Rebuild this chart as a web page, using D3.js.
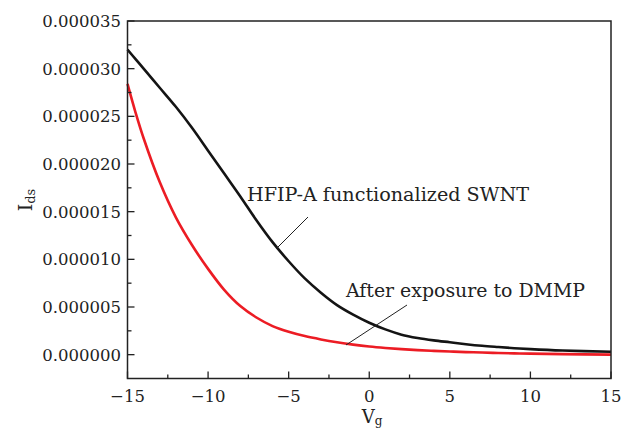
<!DOCTYPE html>
<html><head><meta charset="utf-8">
<script src="https://cdn.jsdelivr.net/npm/d3@7"></script>
<style>
body{margin:0;background:#fff;}
text{font-family:"DejaVu Serif",serif;fill:#222;}
</style></head>
<body><svg id="c" width="629" height="429"></svg>
<script>
const vg = [-15,-14.5,-14,-13,-12,-11,-10,-9,-8,-7,-6,-5,-4,-3,-2,-1,0,1,2,3,4,5,6,7,8,9,10,12,15];
const hfip = [32.0,31.0,30.0,28.0,26.0,23.8,21.4,19.0,16.6,14.1,11.8,9.8,8.0,6.5,5.2,4.2,3.35,2.65,2.1,1.75,1.5,1.3,1.1,0.93,0.8,0.68,0.58,0.43,0.3].map(v=>v*1e-6);
const dmmp = [28.4,25.4,22.7,18.1,14.4,11.5,9.0,6.8,5.1,3.9,3.0,2.4,1.95,1.6,1.3,1.05,0.85,0.7,0.58,0.48,0.4,0.33,0.27,0.22,0.18,0.14,0.11,0.06,0.0].map(v=>v*1e-6);
const xTicks = [-15,-10,-5,0,5,10,15];
const yTicks = [0,0.000005,0.00001,0.000015,0.00002,0.000025,0.00003,0.000035];
const yLabels = ["0.000000","0.000005","0.000010","0.000015","0.000020","0.000025","0.000030","0.000035"];

const svg = d3.select("#c");
const L=127.5, R=611, T=21, B=378.5;
const x = d3.scaleLinear().domain([-15,15]).range([L,R]);
const y = d3.scaleLinear().domain([-0.0000025,0.000035]).range([B,T]);

const line = d3.line().x((d,i)=>x(vg[i])).y(d=>y(d)).curve(d3.curveCatmullRom.alpha(0.5));
svg.append("path").datum(dmmp).attr("d",line).attr("fill","none").attr("stroke","#ec1c24").attr("stroke-width",2.6);
svg.append("path").datum(hfip).attr("d",line).attr("fill","none").attr("stroke","#141414").attr("stroke-width",2.6);

svg.append("rect").attr("x",L).attr("y",T).attr("width",R-L).attr("height",B-T).attr("fill","none").attr("stroke","#222").attr("stroke-width",1.5);

const xMinor = d3.range(-12.5,15,5);
const yMinor = d3.range(0.0000025,0.000035,0.000005);
const g = svg.append("g").attr("stroke","#222").attr("stroke-width",1.3);
xTicks.forEach(t=>g.append("line").attr("x1",x(t)).attr("x2",x(t)).attr("y1",B).attr("y2",B-7));
xMinor.forEach(t=>g.append("line").attr("x1",x(t)).attr("x2",x(t)).attr("y1",B).attr("y2",B-4));
yTicks.forEach(t=>g.append("line").attr("x1",L).attr("x2",L+7).attr("y1",y(t)).attr("y2",y(t)));
yMinor.forEach(t=>g.append("line").attr("x1",L).attr("x2",L+4).attr("y1",y(t)).attr("y2",y(t)));

xTicks.forEach(t=>svg.append("text").attr("x",x(t)).attr("y",402).attr("text-anchor","middle")
  .attr("font-size",16.5).text(t<0?"\u2212"+Math.abs(t):String(t)));
yTicks.forEach((t,i)=>svg.append("text").attr("x",121).attr("y",y(t)+6).attr("text-anchor","end")
  .attr("font-size",16.5).text(yLabels[i]));

const xt = svg.append("text").attr("x",372).attr("y",423).attr("text-anchor","middle").attr("font-size",18);
xt.append("tspan").text("V");
xt.append("tspan").attr("font-size",12).attr("dy",2).text("g");
const yt = svg.append("text").attr("transform","translate(32,200) rotate(-90)").attr("text-anchor","middle").attr("font-size",19);
yt.append("tspan").text("I");
yt.append("tspan").attr("font-size",13).attr("dy",3).text("ds");

svg.append("text").attr("x",247).attr("y",201).attr("font-size",18).attr("textLength",282).attr("lengthAdjust","spacingAndGlyphs").text("HFIP-A functionalized SWNT");
svg.append("line").attr("x1",308).attr("y1",217).attr("x2",276).attr("y2",249).attr("stroke","#222").attr("stroke-width",1);
svg.append("text").attr("x",346).attr("y",297).attr("font-size",18).attr("textLength",239).attr("lengthAdjust","spacingAndGlyphs").text("After exposure to DMMP");
svg.append("line").attr("x1",407).attr("y1",305).attr("x2",346).attr("y2",345).attr("stroke","#222").attr("stroke-width",1);
</script></body></html>
